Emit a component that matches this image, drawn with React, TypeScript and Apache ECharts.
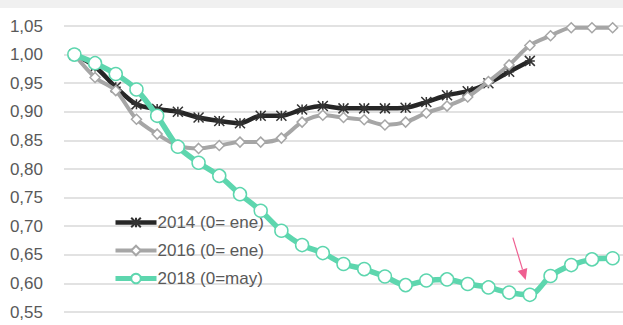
import React, { useEffect, useRef } from 'react';
import * as echarts from 'echarts';

const categories = ['0','1','2','3','4','5','6','7','8','9','10','11','12','13','14','15','16','17','18','19','20','21','22','23','24','25','26'];
const s2014 = [1.000,0.979,0.943,0.913,0.905,0.900,0.890,0.884,0.880,0.893,0.893,0.904,0.910,0.906,0.906,0.906,0.907,0.917,0.929,0.936,0.950,0.970,0.989];
const s2016 = [1.000,0.960,0.937,0.887,0.861,0.841,0.836,0.841,0.847,0.847,0.854,0.882,0.894,0.890,0.886,0.877,0.882,0.898,0.910,0.926,0.953,0.982,1.016,1.033,1.047,1.047,1.047];
const s2018 = [1.000,0.985,0.966,0.939,0.893,0.839,0.811,0.788,0.756,0.727,0.692,0.667,0.653,0.634,0.625,0.612,0.597,0.605,0.607,0.599,0.593,0.584,0.580,0.613,0.632,0.642,0.644];
const names = ['2014 (0= ene)', '2016 (0= ene)', '2018 (0=may)'];
const yMin = 0.55;
const yMax = 1.05;
const yStep = 0.05;
// arrow annotation (category index, value)
const arrowTail = [21.18, 0.680];
const arrowTip = [21.8, 0.606];

const FONT = '"Liberation Sans", Arial, sans-serif';
const GREEN = '#5dd6ae';

export default function App() {
  const ref = useRef<HTMLDivElement>(null);
  useEffect(() => {
    if (!ref.current) return;
    const chart = echarts.init(ref.current, null, { renderer: 'svg' });
    const option: any = {
      animation: false,
      backgroundColor: '#ffffff',
      grid: { left: 64, right: -1, top: 26, bottom: 13, containLabel: false },
      legend: {
        orient: 'vertical',
        left: 108,
        top: 209,
        itemWidth: 41,
        itemHeight: 12,
        itemGap: 11,
        textStyle: { fontSize: 17, color: '#595959', fontFamily: FONT, padding: [0, 0, 0, -4] },
        data: [
          { name: names[0], lineStyle: { width: 4.5 } },
          { name: names[1], lineStyle: { width: 4 } },
          { name: names[2], lineStyle: { width: 5 } },
        ],
      },
      xAxis: {
        type: 'category',
        data: categories,
        boundaryGap: true,
        axisLine: { show: false },
        axisTick: { show: false },
        axisLabel: { show: false },
        splitLine: { show: false },
      },
      yAxis: {
        type: 'value',
        min: yMin,
        max: yMax,
        interval: yStep,
        axisLine: { show: false },
        axisTick: { show: false },
        axisLabel: {
          margin: 21,
          fontSize: 17,
          color: '#595959',
          fontFamily: FONT,
          formatter: (v: number) => v.toFixed(2).replace('.', ','),
        },
        splitLine: { lineStyle: { color: '#d9d9d9', width: 1.5 } },
      },
      series: [
        {
          name: names[0],
          type: 'line',
          data: s2014,
          smooth: 0.3,
          symbol: 'path://M0,0 L10,10 M10,0 L0,10 M5,0 L5,10 M0,5 L10,5',
          symbolSize: 10,
          lineStyle: { color: '#262626', width: 4.5 },
          itemStyle: { color: 'none', borderColor: '#333333', borderWidth: 1.5 },
          z: 2,
        },
        {
          name: names[1],
          type: 'line',
          data: s2016,
          smooth: 0.3,
          symbol: 'diamond',
          symbolSize: 10,
          lineStyle: { color: '#a6a6a6', width: 4 },
          itemStyle: { color: '#ffffff', borderColor: '#a6a6a6', borderWidth: 1.5 },
          z: 3,
        },
        {
          name: names[2],
          type: 'line',
          data: s2018,
          smooth: 0.3,
          symbol: 'circle',
          symbolSize: 13,
          lineStyle: { color: GREEN, width: 5.5 },
          itemStyle: { color: '#ffffff', borderColor: GREEN, borderWidth: 1.5 },
          z: 4,
        },
      ],
    };
    chart.setOption(option);

    const toPx = (p: number[]) => {
      const i0 = Math.floor(p[0]);
      const a = chart.convertToPixel({ gridIndex: 0 }, [i0, p[1]]) as number[];
      const b = chart.convertToPixel({ gridIndex: 0 }, [i0 + 1, p[1]]) as number[];
      const f = p[0] - i0;
      return [a[0] + (b[0] - a[0]) * f, a[1]];
    };
    const t = toPx(arrowTail);
    const h = toPx(arrowTip);
    const dx = h[0] - t[0];
    const dy = h[1] - t[1];
    const len = Math.sqrt(dx * dx + dy * dy);
    const ux = dx / len, uy = dy / len;
    const headLen = 11, headW = 5;
    const bx = h[0] - ux * headLen, by = h[1] - uy * headLen;
    const px = -uy, py = ux;
    chart.setOption({
      graphic: [
        { type: 'rect', shape: { x: 0, y: 0, width: 623, height: 8 }, style: { fill: '#f0f0f0' }, z: 10 },
        { type: 'line', shape: { x1: t[0], y1: t[1], x2: bx, y2: by }, style: { stroke: '#ef5f91', lineWidth: 1.2 }, z: 10 },
        {
          type: 'polygon',
          shape: { points: [[h[0], h[1]], [bx + px * headW, by + py * headW], [bx - px * headW, by - py * headW]] },
          style: { fill: '#ef5f91' },
          z: 10,
        },
      ],
    });
    return () => chart.dispose();
  }, []);
  return (
    <div style={{ position: 'fixed', left: 0, top: 0, width: 623, height: 325, background: '#fff' }}>
      <div ref={ref} style={{ width: 623, height: 325 }} />
    </div>
  );
}
